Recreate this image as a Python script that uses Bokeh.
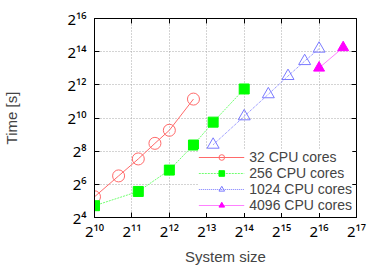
from bokeh.plotting import figure
from bokeh.models import FixedTicker, LogAxis, Legend
from bokeh.embed import file_html
from bokeh.resources import INLINE

# ---- data ----
size_32 = [1024, 1600, 2304, 3136, 4096, 6400]
time_32 = [38, 91, 185, 355, 613, 2257]
size_256 = [1024, 2304, 4096, 6400, 9216, 16384]
time_256 = [26.2, 47.5, 116, 331, 861, 3444]
size_1024 = [9216, 16384, 25600, 36864, 50176, 65536]
time_1024 = [335, 1097, 2759, 5913, 11035, 18560]
size_4096 = [65536, 102400]
time_4096 = [8300, 19480]

labels = ["32 CPU cores", "256 CPU cores", "1024 CPU cores", "4096 CPU cores"]

x_exponents = [10, 11, 12, 13, 14, 15, 16, 17]
y_exponents = [4, 6, 8, 10, 12, 14, 16]
SUP = str.maketrans("0123456789", "⁰¹²³⁴⁵⁶⁷⁸⁹")
x_ticks = [2 ** e for e in x_exponents]
y_ticks = [2 ** e for e in y_exponents]
x_tick_labels = ["2" + str(e).translate(SUP) for e in x_exponents]
y_tick_labels = ["2" + str(e).translate(SUP) for e in y_exponents]

FONT = "Liberation Sans"
TICK_FONT = "Noto Sans"

p = figure(width=382, height=267, x_axis_type="log", y_axis_type="log",
           x_range=(x_ticks[0], x_ticks[-1]), y_range=(y_ticks[0], y_ticks[-1]),
           output_backend="svg", toolbar_location=None,
           min_border_left=93, min_border_right=26, min_border_top=18, min_border_bottom=45)

p.outline_line_color = "black"
p.outline_line_width = 1
p.background_fill_color = "white"

for ax, ticks, labs in ((p.xaxis[0], x_ticks, x_tick_labels), (p.yaxis[0], y_ticks, y_tick_labels)):
    ax.ticker = FixedTicker(ticks=ticks, minor_ticks=[])
    ax.major_label_overrides = {t: l for t, l in zip(ticks, labs)}
    ax.major_tick_in = 5
    ax.major_tick_out = 0
    ax.minor_tick_line_color = None
    ax.axis_line_color = "black"
    ax.major_tick_line_color = "black"
    ax.major_label_text_font = TICK_FONT
    ax.major_label_text_font_size = "15px"
    ax.major_label_text_color = "black"
    ax.axis_label_text_font = FONT
    ax.axis_label_text_font_size = "15px"
    ax.axis_label_text_font_style = "normal"

p.xaxis.axis_label = "System size"
p.yaxis.axis_label = "Time [s]"
p.xaxis.major_label_standoff = 3
p.xaxis.axis_label_standoff = 4
p.yaxis.major_label_standoff = 8
p.yaxis.axis_label_standoff = 44

# mirrored tick marks on top and right (no labels)
for loc, ticks in (("right", y_ticks), ("above", x_ticks)):
    ax = LogAxis(ticker=FixedTicker(ticks=ticks, minor_ticks=[]),
                 major_label_overrides={t: "" for t in ticks},
                 major_label_text_color=None, major_label_text_font_size="2px",
                 major_label_standoff=0,
                 major_tick_in=5, major_tick_out=0, axis_line_color=None,
                 major_tick_line_color="black")
    p.add_layout(ax, loc)

p.xgrid.ticker = FixedTicker(ticks=x_ticks)
p.ygrid.ticker = FixedTicker(ticks=y_ticks)
for g in (p.xgrid[0], p.ygrid[0]):
    g.grid_line_color = "#a8a8a8"
    g.grid_line_dash = "1 2"
    g.grid_line_width = 1

r1 = p.line(size_32, time_32, line_color="#ff6a6a", line_width=1)
s1 = p.scatter(size_32, time_32, marker="circle", size=12, fill_color=None,
               line_color="#ff6a6a", line_width=1)
r2 = p.line(size_256, time_256, line_color="#70ff70", line_width=1, line_dash="2 1")
s2 = p.scatter(size_256, time_256, marker="square", size=10, fill_color="#00ff00",
               line_color="#00ff00")
r3 = p.line(size_1024, time_1024, line_color="#7a7aff", line_width=1, line_dash="1 1")
s3 = p.scatter(size_1024, time_1024, marker="triangle", size=12, fill_color=None,
               line_color="#7a7aff", line_width=1)
r4 = p.line(size_4096, time_4096, line_color="#ff80ff", line_width=1)
s4 = p.scatter(size_4096, time_4096, marker="triangle", size=11, fill_color="#ff00ff",
               line_color="#ff00ff")

legend = Legend(items=[(labels[0], [r1, s1]), (labels[1], [r2, s2]),
                       (labels[2], [r3, s3]), (labels[3], [r4, s4])],
                location="bottom_right", border_line_color=None,
                background_fill_color="white", background_fill_alpha=1.0,
                label_text_font=FONT, label_text_font_size="14px",
                glyph_width=46, glyph_height=14, label_height=14,
                spacing=0, padding=1, margin=4, label_standoff=5)
p.add_layout(legend)

open("out.html", "w").write(file_html(p, INLINE))
